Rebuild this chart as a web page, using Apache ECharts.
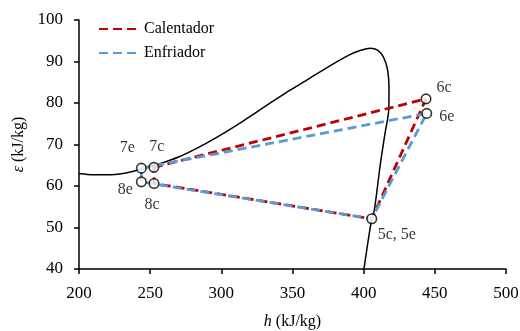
<!DOCTYPE html>
<html>
<head>
<meta charset="utf-8">
<script src="https://cdn.jsdelivr.net/npm/echarts@6/dist/echarts.min.js"></script>
<style>
  html, body { margin: 0; padding: 0; background: #fff; }
  #chart { width: 520px; height: 331px; }
</style>
</head>
<body>
<div id="chart"></div>
<script>
// curva de saturacion (h, epsilon)
var domeH = [200, 210, 220, 232, 243, 255, 270, 285, 300, 315, 330, 345, 360, 376, 390, 398, 404.5, 410, 414, 416.8, 417.8, 417.6, 415, 411.5, 407.5, 405.7, 400.2];
var domeE = [63.0, 62.7, 62.7, 63.1, 64.0, 65.2, 67.0, 69.5, 72.4, 75.6, 79.0, 82.4, 85.5, 88.9, 91.6, 92.7, 93.2, 92.7, 91.0, 88.0, 83.5, 78.3, 72.7, 64.7, 54.2, 52.2, 40];

// puntos del ciclo
var pointNames = ["7e", "7c", "8e", "8c", "6c", "6e", "5c, 5e"];
var pointH = [243.8, 252.6, 243.8, 252.7, 443.8, 444.3, 405.7];
var pointE = [64.3, 64.5, 61.0, 60.6, 81.0, 77.5, 52.1];

// ciclos: indices en pointNames
var calentadorIdx = [1, 4, 6, 3, 1];
var enfriadorIdx = [0, 5, 6, 2, 0];

var legendNames = ["Calentador", "Enfriador"];

// donde va cada etiqueta respecto al punto (px)
var labelOffset = {
  "7e": [-14, -20],
  "7c": [3, -21],
  "8e": [-16, 8],
  "8c": [-2, 21],
  "6c": [18, -11],
  "6e": [20, 3],
  "5c, 5e": [25, 16]
};

var font = "Liberation Serif";

function cyclePath(idx) {
  return idx.map(function (i) { return [pointH[i], pointE[i]]; });
}

var myChart = echarts.init(document.getElementById("chart"));

myChart.setOption({
  animation: false,
  grid: { left: 79, right: 14, top: 20, bottom: 62, containLabel: false, outerBoundsMode: "none" },
  legend: {
    data: legendNames,
    orient: "vertical",
    left: 93,
    top: 16,
    itemWidth: 40,
    itemHeight: 14,
    itemGap: 8,
    itemStyle: { color: "rgba(0,0,0,0)", borderWidth: 0 },
    textStyle: { fontFamily: font, fontSize: 16, color: "#000" }
  },
  xAxis: {
    type: "value",
    min: 200,
    max: 500,
    interval: 50,
    name: "{i|h} (kJ/kg)",
    nameLocation: "middle",
    nameGap: 45,
    nameTextStyle: {
      fontFamily: font, fontSize: 16, color: "#000",
      rich: { i: { fontFamily: font, fontSize: 16, fontStyle: "italic", color: "#000" } }
    },
    splitLine: { show: false },
    axisLine: { onZero: false, lineStyle: { color: "#000", width: 1.5 } },
    axisTick: { length: 5, lineStyle: { color: "#000", width: 1.5 } },
    axisLabel: { margin: 16, fontFamily: font, fontSize: 17, color: "#000" }
  },
  yAxis: {
    type: "value",
    min: 40,
    max: 100,
    interval: 10,
    name: "{i|ε} (kJ/kg)",
    nameLocation: "middle",
    nameGap: 52,
    nameTextStyle: {
      fontFamily: font, fontSize: 16, color: "#000",
      rich: { i: { fontFamily: font, fontSize: 16, fontStyle: "italic", color: "#000" } }
    },
    splitLine: { show: false },
    axisLine: { show: true, lineStyle: { color: "#000", width: 1.5 } },
    axisTick: { show: true, length: 5, lineStyle: { color: "#000", width: 1.5 } },
    axisLabel: { margin: 16, fontFamily: font, fontSize: 17, color: "#000" }
  },
  series: [
    {
      name: "domo",
      type: "line",
      data: domeH.map(function (h, i) { return [h, domeE[i]]; }),
      showSymbol: false,
      symbol: "none",
      smooth: 0.3,
      lineStyle: { color: "#000", width: 1.5 },
      z: 1
    },
    {
      name: "Calentador",
      type: "line",
      data: cyclePath(calentadorIdx),
      symbol: "none",
      color: "#C00000",
      lineStyle: { color: "#C00000", width: 2.8, type: [9, 5] },
      z: 2
    },
    {
      name: "Enfriador",
      type: "line",
      data: cyclePath(enfriadorIdx),
      symbol: "none",
      color: "#5B9BD5",
      lineStyle: { color: "#5B9BD5", width: 2.8, type: [9, 5] },
      z: 3
    },
    {
      name: "puntos",
      type: "scatter",
      symbol: "circle",
      symbolSize: 9.5,
      itemStyle: { color: "#fff", borderColor: "#000", borderWidth: 1.6 },
      data: pointNames.map(function (n, i) {
        return {
          value: [pointH[i], pointE[i]],
          label: {
            show: true,
            position: "inside",
            offset: labelOffset[n],
            formatter: n,
            fontFamily: font,
            fontSize: 16,
            color: "#000"
          }
        };
      }),
      z: 4
    }
  ]
});
</script>
</body>
</html>
